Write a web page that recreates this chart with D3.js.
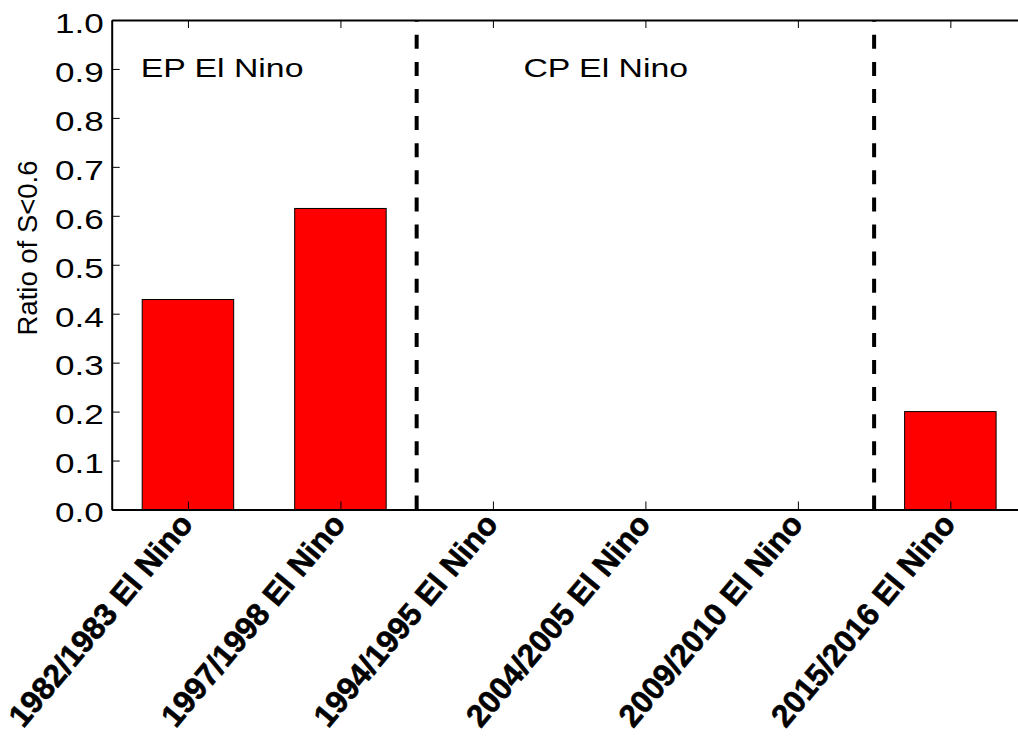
<!DOCTYPE html>
<html>
<head>
<meta charset="utf-8">
<script src="https://cdn.jsdelivr.net/npm/d3@7"></script>
<style>
  body { margin: 0; background: #fff; }
  text { font-family: "Liberation Sans", Arial, sans-serif; fill: #000; }
</style>
</head>
<body>
<div id="chart"></div>
<script>
// data
const events = [
  "1982/1983 El Nino",
  "1997/1998 El Nino",
  "1994/1995 El Nino",
  "2004/2005 El Nino",
  "2009/2010 El Nino",
  "2015/2016 El Nino",
];
const ratios = [0.429, 0.615, 0, 0, 0, 0.2];
const yTicks = [0, 0.1, 0.2, 0.3, 0.4, 0.5, 0.6, 0.7, 0.8, 0.9, 1.0];
// group separators sit between bars (bar index units)
const separators = [1.5, 4.5];
const groupLabels = ["EP El Nino", "CP El Nino"];
const groupLabelX = [-0.31, 2.2];
const groupLabelY = [0.9, 0.9];

const width = 1018, height = 747;
const margin = { top: 20, left: 111.7, bottom: 237.5 };
const plotW = 914.9; // right spine sits just past the page edge
const plotH = height - margin.top - margin.bottom;
const FONT = '"Liberation Sans", Arial, sans-serif';
const wide = "scale(1.3,1)"; // the source figure's text is stretched sideways

const svg = d3.select("#chart").append("svg")
  .attr("width", width)
  .attr("height", height);

const g = svg.append("g")
  .attr("transform", `translate(${margin.left},${margin.top})`);

const x = d3.scaleLinear().domain([-0.5, events.length - 0.5]).range([0, plotW]);
const y = d3.scaleLinear().domain([0, 1]).range([plotH, 0]);
const barW = x(0.6) - x(0);

// bars
g.selectAll("rect.bar")
  .data(ratios)
  .join("rect")
  .attr("class", "bar")
  .attr("x", (d, i) => x(i) - barW / 2)
  .attr("y", (d) => y(d))
  .attr("width", barW)
  .attr("height", (d) => plotH - y(d))
  .attr("fill", "#ff0000")
  .attr("stroke", "#000")
  .attr("stroke-width", 1);

// dashed separators
g.selectAll("line.sep")
  .data(separators)
  .join("line")
  .attr("class", "sep")
  .attr("x1", (d) => x(d))
  .attr("x2", (d) => x(d))
  .attr("y1", y(0))
  .attr("y2", y(1))
  .attr("stroke", "#000")
  .attr("stroke-width", 4)
  .attr("stroke-dasharray", "14,13.1");

// group labels
g.selectAll("text.group")
  .data(groupLabels)
  .join("text")
  .attr("class", "group")
  .attr("transform", (d, i) =>
    `translate(${x(groupLabelX[i])},${y(groupLabelY[i]) + 7.7}) ${wide}`)
  .style("font-size", "26px")
  .text((d) => d);

// axes, ticks pointing inward
const styleAxis = (sel) => {
  sel.select(".domain").attr("stroke-width", 2);
  sel.selectAll(".tick line").attr("stroke-width", 1);
};

const yAxis = g.append("g")
  .call(d3.axisLeft(y).tickValues(yTicks).tickFormat(d3.format(".1f"))
    .tickSizeInner(-8).tickSizeOuter(0))
  .call(styleAxis);
yAxis.selectAll(".tick text")
  .attr("x", null)
  .attr("dy", null)
  .attr("text-anchor", "end")
  .attr("transform", `translate(-8,12.3) ${wide}`)
  .style("font-size", "27px")
  .style("font-family", FONT);

g.append("g")
  .attr("transform", `translate(${plotW},0)`)
  .call(d3.axisRight(y).tickValues(yTicks).tickFormat("")
    .tickSizeInner(-8).tickSizeOuter(0))
  .call(styleAxis);

g.append("g")
  .call(d3.axisTop(x).tickValues(d3.range(events.length)).tickFormat("")
    .tickSizeInner(-8).tickSizeOuter(0))
  .call(styleAxis);

const xAxis = g.append("g")
  .attr("transform", `translate(0,${plotH})`)
  .call(d3.axisBottom(x).tickValues(d3.range(events.length))
    .tickFormat((i) => events[i]).tickSizeInner(-8).tickSizeOuter(0))
  .call(styleAxis);

xAxis.selectAll(".tick text")
  .attr("x", 0)
  .attr("y", 0)
  .attr("dy", 0)
  .attr("text-anchor", "end")
  .attr("transform", "translate(6,15.5) rotate(-50)")
  .attr("stroke", "#000")
  .attr("stroke-width", 0.6)
  .style("font-size", "31.5px")
  .style("font-weight", "bold")
  .style("font-family", FONT);

// y axis label
svg.append("text")
  .attr("transform", "translate(37,248) rotate(-90)")
  .attr("text-anchor", "middle")
  .style("font-size", "27.5px")
  .text("Ratio of S<0.6");
</script>
</body>
</html>
